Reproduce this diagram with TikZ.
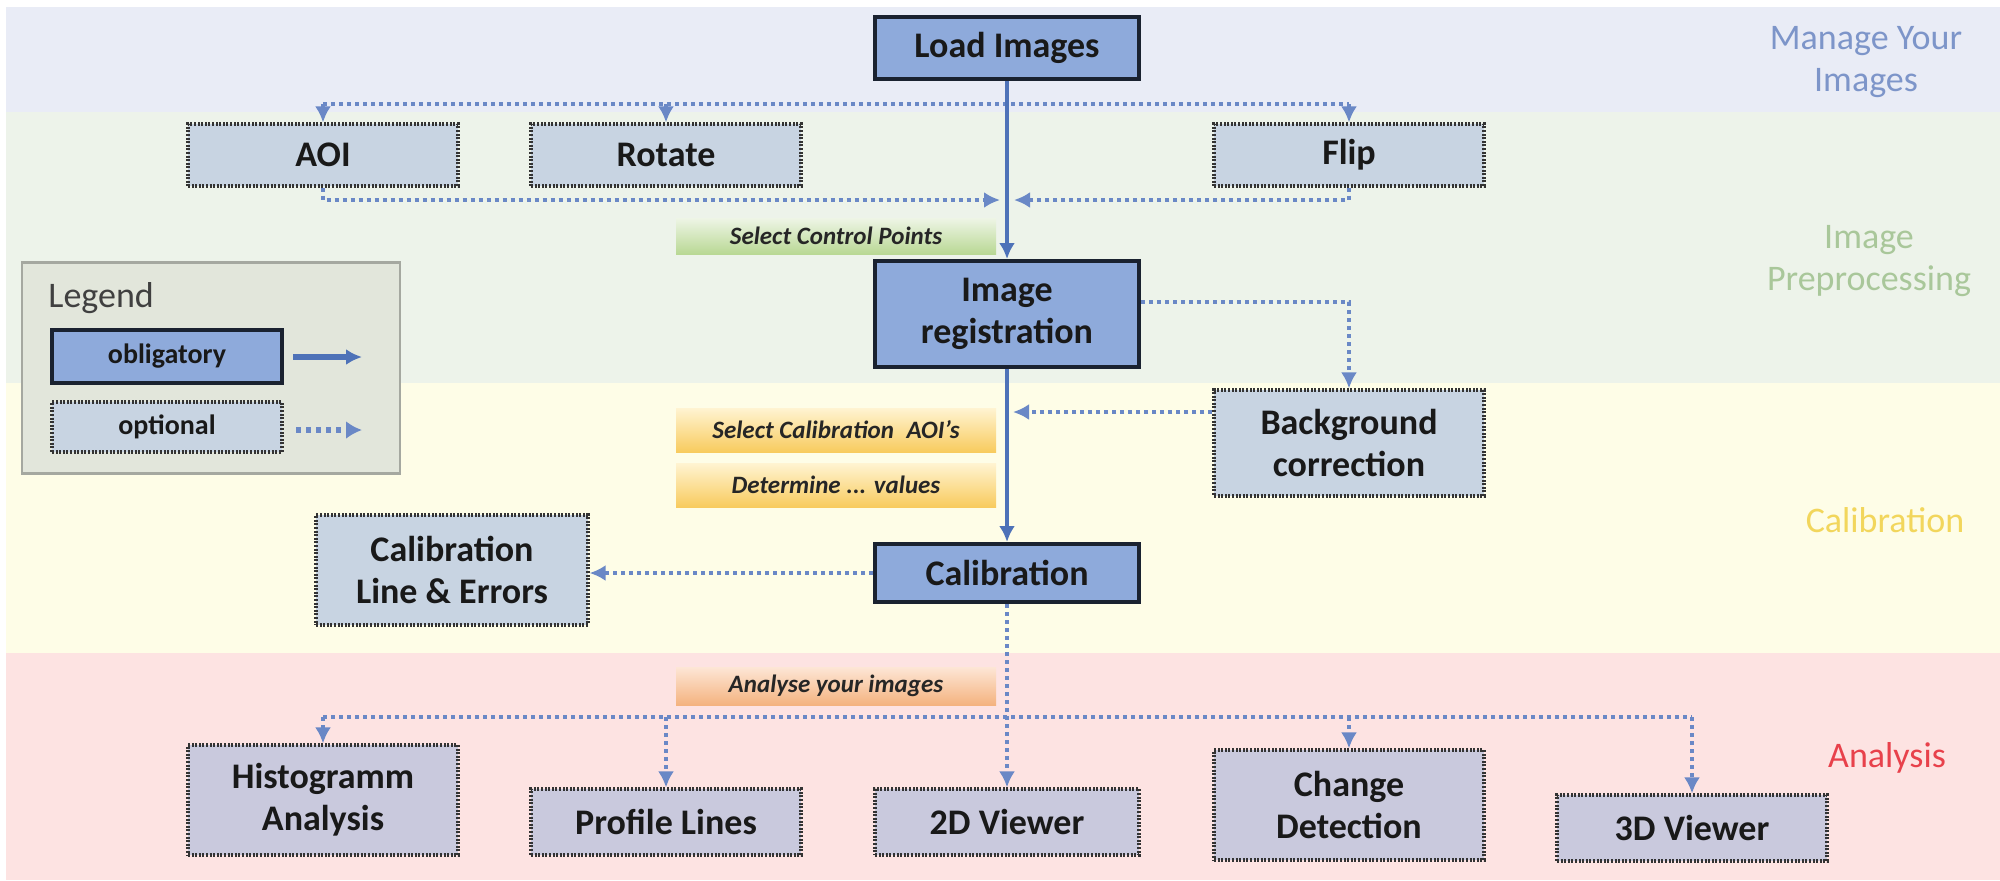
\documentclass[tikz,border=0pt]{standalone}
\usepackage{fontspec}
\setmainfont{Carlito}
\usetikzlibrary{arrows.meta}
\definecolor{bandblue}{HTML}{E9ECF6}
\definecolor{bandgreen}{HTML}{EDF3EA}
\definecolor{bandyellow}{HTML}{FEFDE7}
\definecolor{bandred}{HTML}{FDE3E2}
\definecolor{oblfill}{HTML}{8EAADB}
\definecolor{oblborder}{HTML}{1A2230}
\definecolor{optfill}{HTML}{C8D4E2}
\definecolor{optfilltwo}{HTML}{C9C9DD}
\definecolor{arrblue}{HTML}{4E72B8}
\definecolor{dotblue}{HTML}{6A88C6}
\definecolor{legfill}{HTML}{E2E6DB}
\definecolor{legborder}{HTML}{A5A8A0}
\definecolor{txmanage}{HTML}{7D95C9}
\definecolor{txprep}{HTML}{A9C79A}
\definecolor{txcal}{HTML}{F2D65C}
\definecolor{txana}{HTML}{E8414B}
\definecolor{greenlo}{HTML}{B9D894}
\definecolor{greenhi}{HTML}{EEF5E6}
\definecolor{yellowlo}{HTML}{F8CB5E}
\definecolor{yellowhi}{HTML}{FFF4D2}
\definecolor{orangelo}{HTML}{F4B37F}
\definecolor{orangehi}{HTML}{FDE6D6}
\begin{document}
\begin{tikzpicture}[x=0.5pt,y=-0.5pt,
  boxtext/.style={font=\fontsize{18}{21}\selectfont\bfseries, align=center, inner sep=0pt, text=black!90},
  obl/.style={boxtext, draw=oblborder, line width=2pt, fill=oblfill},
  opt/.style={boxtext, draw=black!80, line width=1.6pt, dash pattern=on 1pt off 0.8pt, fill=optfill},
  opttwo/.style={opt, fill=optfilltwo},
  solidarr/.style={draw=arrblue, line width=2pt, -{Latex[length=8pt,width=8pt]}},
  dotline/.style={draw=dotblue, line width=2.4pt, dash pattern=on 2pt off 2pt},
  dotarr/.style={dotline, -{Latex[length=8pt,width=8pt]}},
  tag/.style={font=\fontsize{12.5}{14}\selectfont\bfseries\itshape, inner sep=0pt, text=black!85, minimum width=160pt},
  phase/.style={font=\fontsize{18}{21}\selectfont, align=center, inner sep=0pt},
  legtext/.style={font=\fontsize{14}{16}\selectfont\bfseries, align=center, inner sep=0pt, text=black!90}
]
\useasboundingbox (0,0) rectangle (2000,880);
\fill[white] (0,0) rectangle (2000,880);
\fill[bandblue] (6,7) rectangle (2000,112);
\fill[bandgreen] (6,112) rectangle (2000,383);
\fill[bandyellow] (6,383) rectangle (2000,653);
\fill[bandred] (6,653) rectangle (2000,880);

% phase labels
\node[phase, text=txmanage] (pmanage) at (1866,62) {Manage Your\\Images};
\node[phase, text=txprep] (pprep) at (1869,261) {Image\\Preprocessing};
\node[phase, text=txcal] (pcal) at (1885,520) {Calibration};
\node[phase, text=txana] (pana) at (1887,758) {Analysis};

% legend
\node[draw=legborder, line width=1.2pt, fill=legfill, minimum width=189pt, minimum height=105.5pt, inner sep=0pt] (legend) at (211,368) {};
\node[anchor=west, font=\fontsize{18}{21}\selectfont, text=black!75, inner sep=0pt] (legtitle) at (48,298) {Legend};
\node[obl, legtext, minimum width=115pt, minimum height=26.5pt] (lobl) at (167,356) {obligatory};
\node[opt, legtext, minimum width=115pt, minimum height=25pt] (lopt) at (167,427) {optional};
\coordinate (la1) at (293,357);
\coordinate (la2) at (362,357);
\coordinate (lb1) at (296,430);
\coordinate (lb2) at (362,430);
\draw[draw=arrblue, line width=2.6pt, -{Latex[length=8pt,width=8pt]}] (la1) -- (la2);
\draw[dotline, line width=3pt, dash pattern=on 2.5pt off 2.5pt, -{Latex[length=8pt,width=9pt]}] (lb1) -- (lb2);

% main boxes
\node[obl, minimum width=132pt, minimum height=31pt] (load) at (1007,48) {Load Images};
\node[opt, minimum width=135pt, minimum height=31pt] (aoi) at (323,155) {AOI};
\node[opt, minimum width=135pt, minimum height=31pt] (rot) at (666,155) {Rotate};
\node[opt, minimum width=135pt, minimum height=31pt] (flip) at (1349,155) {Flip};
\node[obl, minimum width=132pt, minimum height=53pt] (reg) at (1007,314) {Image\\registration};
\node[opt, minimum width=135pt, minimum height=53pt] (bg) at (1349,443) {Background\\correction};
\node[obl, minimum width=132pt, minimum height=29pt] (cal) at (1007,573) {Calibration};
\node[opt, minimum width=136pt, minimum height=55pt] (cle) at (452,570) {Calibration\\Line \& Errors};

\node[opttwo, minimum width=135pt, minimum height=55pt] (hist) at (323,800) {Histogramm\\Analysis};
\node[opttwo, minimum width=135pt, minimum height=33pt] (prof) at (666,822) {Profile Lines};
\node[opttwo, minimum width=132pt, minimum height=33pt] (vtwo) at (1007,822) {2D Viewer};
\node[opttwo, minimum width=135pt, minimum height=55pt] (chg) at (1349,805) {Change\\Detection};
\node[opttwo, minimum width=135pt, minimum height=33pt] (vthree) at (1692,828) {3D Viewer};

% tags
\node[tag, minimum height=18pt, top color=greenhi, bottom color=greenlo] (tsel) at (836,236) {Select Control Points};
\node[tag, minimum height=22pt, top color=yellowhi, bottom color=yellowlo] (tcalaoi) at (836,430) {Select Calibration\enspace AOI's};
\node[tag, minimum height=22pt, top color=yellowhi, bottom color=yellowlo] (tdet) at (836,485) {Determine ... values};
\node[tag, minimum height=19pt, top color=orangehi, bottom color=orangelo] (tana) at (836,686) {Analyse your images};

% coordinates for branches
\coordinate (tl) at (323,104);
\coordinate (tr) at (1349,104);
\coordinate (mjl) at (1000,200);
\coordinate (mjr) at (1014,200);
\coordinate (bgin) at (1013,412);
\coordinate (bl) at (323,717);
\coordinate (br) at (1692,717);

% dotted connectors
\draw[dotline] (tl) -- (tr);
\draw[dotarr] (tl) -- (aoi.north);
\draw[dotarr] (rot.north |- tl) -- (rot.north);
\draw[dotarr] (tr) -- (flip.north);
\draw[dotarr] (aoi.south) |- (mjl);
\draw[dotarr] (flip.south) |- (mjr);
\draw[dotarr] ([yshift=6pt]reg.east) -| (bg.north);
\draw[dotarr] ([yshift=15.5pt]bg.west) -- (bgin);
\draw[dotarr] (cal.west) -- (cal.west -| cle.east);
\draw[dotline] (bl) -- (br);
\draw[dotarr] (cal.south) -- (vtwo.north);
\draw[dotarr] (bl) -- (hist.north);
\draw[dotarr] (prof.north |- bl) -- (prof.north);
\draw[dotarr] (chg.north |- bl) -- (chg.north);
\draw[dotarr] (br) -- (vthree.north);

% solid connectors
\draw[solidarr] (load.south) -- (reg.north);
\draw[solidarr] (reg.south) -- (cal.north);
\end{tikzpicture}
\end{document}
